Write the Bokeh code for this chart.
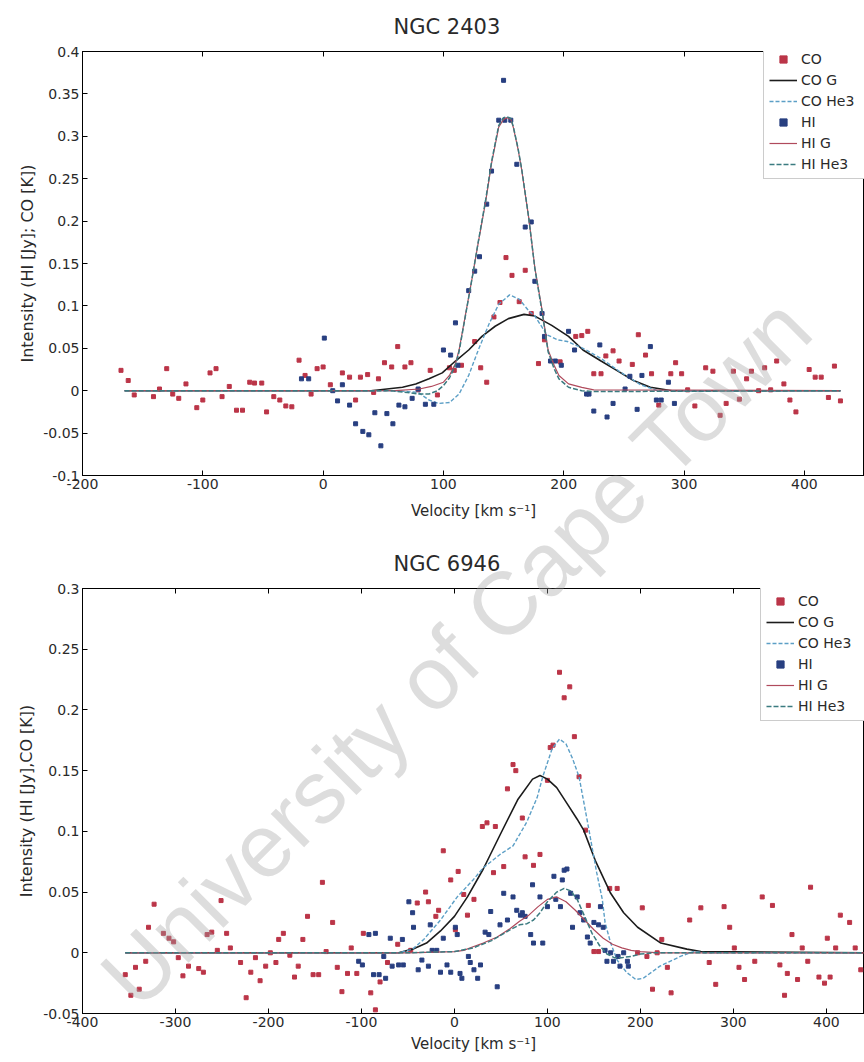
from bokeh.plotting import figure
from bokeh.models import (Range1d, LinearAxis, FixedTicker, CustomJSTickFormatter,
                          Legend, LegendItem, Label)
from bokeh.layouts import column
from bokeh.embed import file_html
from bokeh.resources import INLINE

# ---------------- NGC 2403 ----------------
n2403_co_v = [-168, -162, -157, -141, -136, -130, -125, -120, -114, -105, -100, -94, -89, -84, -78,
              -72, -67, -61, -57, -51, -47, -41, -36, -31, -26, -20, -15, -10, -5, 0, 6, 16, 22, 27,
              31, 37, 42, 46, 51, 57, 62, 68, 73, 79, 89, 95, 105, 109, 115, 126, 131, 136, 142, 147,
              152, 157, 163, 168, 173, 179, 184, 197, 210, 215, 220, 225, 231, 235, 241, 246, 257,
              262, 268, 273, 279, 289, 293, 298, 303, 309, 318, 324, 330, 335, 341, 346, 352, 356,
              362, 367, 372, 377, 383, 388, 393, 404, 409, 414, 420, 425, 430]
n2403_co_i = [0.024, 0.012, -0.005, -0.007, 0.002, 0.026, -0.004, -0.009, 0.008, -0.020, -0.011,
              0.021, 0.026, -0.007, 0.005, -0.023, -0.023, 0.010, 0.009, 0.009, -0.025, -0.007,
              -0.011, -0.018, -0.019, 0.036, 0.018, -0.004, 0.026, 0.028, 0.007, 0.021, 0.016,
              -0.011, 0.016, 0.019, -0.002, 0.014, 0.033, 0.028, 0.052, 0.028, 0.033, 0.001, 0.024,
              -0.005, 0.027, 0.024, 0.030, 0.058, 0.027, 0.010, 0.087, 0.104, 0.157, 0.136, 0.105,
              0.142, 0.091, 0.032, 0.060, 0.034, 0.064, 0.065, 0.070, 0.020, 0.020, 0.041, 0.047,
              0.035, 0.031, 0.066, 0.042, 0.020, -0.017, 0.020, 0.033, 0.020, 0.001, -0.018, 0.027,
              0.023, -0.029, -0.015, 0.023, -0.010, 0.014, 0.023, 0.000, 0.027, 0.001, 0.035, 0.008,
              -0.011, -0.025, 0.025, 0.016, 0.016, -0.008, 0.029, -0.012]
n2403_hi_v = [-18, -12, 1, 8, 12, 16, 22, 27, 33, 38, 43, 48, 53, 58, 63, 68, 74, 79, 85, 92, 100,
              106, 110, 112, 121, 126, 130, 136, 140, 146, 150, 151, 156, 161, 168, 173, 176, 182,
              184, 189, 193, 198, 204, 209, 219, 221, 225, 230, 236, 241, 251, 255, 261, 265, 272,
              277, 281, 287, 292]
n2403_hi_i = [0.014, 0.014, 0.062, 0.000, -0.012, 0.007, -0.017, -0.039, -0.048, -0.052, -0.026,
              -0.065, -0.027, -0.039, -0.017, -0.019, -0.009, 0.002, -0.016, -0.016, 0.048, 0.042,
              0.080, 0.030, 0.118, 0.141, 0.158, 0.220, 0.259, 0.319, 0.366, 0.319, 0.319, 0.267,
              0.193, 0.199, 0.129, 0.091, 0.064, 0.035, 0.035, 0.030, 0.070, 0.048, -0.004, -0.004,
              -0.024, 0.054, -0.031, -0.015, 0.002, 0.017, -0.022, 0.018, 0.052, -0.011, -0.011,
              0.010, -0.015]
n2403_cog_v = [-165, 40, 66, 77, 88, 99, 110, 121, 132, 143, 154, 167, 176, 190, 204, 216, 231, 244,
               258, 272, 290, 430]
n2403_cog_i = [0, 0, 0.004, 0.008, 0.014, 0.021, 0.035, 0.048, 0.064, 0.076, 0.085, 0.090, 0.088,
               0.077, 0.064, 0.048, 0.035, 0.024, 0.012, 0.004, 0, 0]
n2403_cohe3_v = [-165, 60, 79, 88, 96, 105, 113, 121, 129, 138, 146, 155, 163, 171, 176, 186, 195,
                 203, 216, 231, 247, 264, 278, 430]
n2403_cohe3_i = [0, 0, -0.002, -0.011, -0.015, -0.014, -0.004, 0.018, 0.048, 0.079, 0.102, 0.113,
                 0.108, 0.094, 0.088, 0.066, 0.060, 0.058, 0.050, 0.038, 0.022, 0.007, 0, 0]
n2403_hig_v = [-165, 60, 80, 90, 100, 105, 110, 113, 118, 124, 129, 135, 140, 146, 150, 153, 156,
               158, 162, 165, 171, 176, 182, 187, 192, 196, 204, 215, 225, 430]
n2403_hig_i = [0, 0, 0.002, 0.005, 0.010, 0.018, 0.032, 0.048, 0.087, 0.134, 0.175, 0.222, 0.268,
               0.311, 0.320, 0.322, 0.320, 0.311, 0.285, 0.261, 0.203, 0.145, 0.095, 0.048, 0.030,
               0.018, 0.008, 0.004, 0.001, 0]
n2403_hihe3_v = [-165, 55, 70, 80, 88, 95, 100, 105, 110, 113, 118, 124, 129, 135, 140, 146, 150,
                 153, 156, 158, 162, 165, 171, 176, 182, 187, 192, 196, 204, 215, 225, 430]
n2403_hihe3_i = [0, 0, -0.002, -0.004, -0.004, 0.000, 0.006, 0.015, 0.030, 0.046, 0.086, 0.134,
                 0.176, 0.224, 0.270, 0.313, 0.322, 0.323, 0.321, 0.312, 0.286, 0.262, 0.203, 0.144,
                 0.093, 0.046, 0.026, 0.014, 0.004, 0.000, -0.001, 0]

# ---------------- NGC 6946 ----------------
n6946_co_v = [-354, -348, -343, -339, -332, -329, -323, -313, -307, -302, -297, -292, -286, -275,
              -270, -266, -261, -255, -251, -245, -241, -230, -224, -219, -214, -209, -203, -198,
              -192, -189, -184, -177, -172, -168, -163, -158, -152, -146, -142, -138, -131, -126,
              -121, -115, -111, -105, -98, -90, -85, -80, -72, -61, -47, -40, -31, -28, -20, -17,
              -12, -4, 1, 4, 10, 14, 21, 30, 35, 42, 44, 53, 57, 63, 66, 73, 76, 85, 92, 100, 103,
              106, 113, 118, 124, 129, 134, 141, 144, 150, 155, 167, 175, 197, 202, 207, 213, 218,
              223, 229, 233, 253, 265, 274, 281, 290, 296, 301, 306, 312, 323, 331, 342, 350, 355,
              358, 363, 369, 374, 380, 383, 392, 398, 401, 404, 410, 415, 425, 431, 437]
n6946_co_i = [-0.018, -0.035, -0.012, -0.030, -0.007, 0.021, 0.040, 0.016, 0.012, 0.009, -0.004,
              -0.019, -0.011, -0.013, -0.016, 0.015, 0.017, 0.002, 0.043, 0.016, 0.004, -0.008,
              -0.037, -0.016, -0.004, -0.023, -0.011, 0.000, -0.008, 0.011, 0.016, -0.002, -0.020,
              -0.011, 0.011, 0.030, -0.018, -0.018, 0.058, 0.001, 0.025, -0.012, -0.032, -0.017,
              0.004, -0.017, 0.016, -0.033, -0.047, -0.024, -0.008, 0.007, 0.002, 0.041, 0.050,
              0.042, 0.030, 0.035, 0.084, 0.060, 0.019, 0.067, 0.048, 0.031, 0.044, 0.104, 0.107,
              0.066, 0.104, 0.071, 0.135, 0.155, 0.150, 0.111, 0.079, 0.072, 0.081, 0.142, 0.169,
              0.171, 0.231, 0.210, 0.219, 0.178, 0.145, 0.101, 0.039, 0.001, 0.001, 0.053, 0.053,
              0.000, 0.037, -0.003, -0.030, 0.000, 0.011, -0.012, -0.033, 0.027, 0.037, -0.008,
              -0.026, 0.038, 0.021, 0.004, -0.012, -0.022, -0.007, 0.046, 0.039, -0.010, -0.035,
              -0.017, 0.015, -0.022, 0.004, -0.007, 0.054, -0.020, -0.025, 0.012, -0.020, 0.004,
              0.031, 0.025, 0.004, -0.014]
n6946_hi_v = [-103, -99, -92, -87, -85, -81, -76, -74, -69, -67, -60, -56, -55, -49, -45, -44, -39,
              -35, -28, -26, -24, -19, -15, -12, -8, -4, 1, 3, 6, 8, 15, 17, 21, 25, 28, 33, 37, 39,
              46, 49, 53, 57, 63, 67, 71, 73, 76, 82, 84, 85, 92, 95, 100, 107, 109, 114, 116, 118,
              121, 125, 127, 132, 135, 139, 143, 146, 150, 155, 157, 160, 162, 164, 168, 171, 176,
              178, 182, 186, 187]
n6946_hi_i = [-0.007, -0.010, 0.015, -0.018, 0.016, -0.018, -0.003, -0.021, 0.012, -0.011, -0.010,
              0.011, -0.010, 0.042, 0.033, 0.021, -0.014, -0.006, -0.011, 0.023, 0.002, 0.002,
              -0.016, 0.012, -0.010, -0.016, 0.021, 0.015, -0.017, -0.021, -0.003, -0.008, -0.014,
              -0.021, -0.010, 0.017, 0.015, 0.034, -0.028, 0.023, 0.049, 0.027, 0.046, 0.035, 0.031,
              0.033, 0.030, 0.015, 0.056, 0.008, 0.046, 0.008, 0.038, 0.063, 0.044, 0.038, 0.060,
              0.068, 0.069, 0.049, 0.021, 0.046, 0.033, 0.027, 0.013, 0.008, 0.025, 0.023, 0.038,
              0.021, 0.002, -0.007, 0.000, -0.007, -0.003, -0.011, 0.000, -0.007, -0.011]
n6946_cog_v = [-354, -60, -45, -30, -15, 0, 14, 31, 49, 68, 84, 92, 100, 110, 121, 132, 139, 152,
               168, 182, 197, 222, 250, 265, 440]
n6946_cog_i = [0, 0, 0.003, 0.008, 0.018, 0.030, 0.046, 0.069, 0.097, 0.126, 0.143, 0.146, 0.143,
               0.136, 0.123, 0.110, 0.101, 0.075, 0.049, 0.033, 0.021, 0.008, 0.003, 0.001, 0]
n6946_cohe3_v = [-354, -60, -45, -33, -15, 3, 20, 31, 49, 63, 78, 89, 95, 105, 113, 120, 127, 134,
                 144, 148, 153, 159, 162, 168, 175, 185, 195, 203, 212, 221, 243, 257, 270, 440]
n6946_cohe3_i = [0, 0, 0.003, 0.011, 0.027, 0.046, 0.060, 0.070, 0.081, 0.088, 0.108, 0.128, 0.145,
                 0.168, 0.176, 0.172, 0.160, 0.145, 0.104, 0.087, 0.066, 0.044, 0.025, 0.008,
                 -0.006, -0.016, -0.022, -0.021, -0.016, -0.011, -0.003, 0.001, 0, 0]
n6946_hig_v = [-354, -50, 0, 10, 20, 31, 46, 60, 70, 80, 90, 100, 110, 120, 130, 140, 150, 160, 170,
               180, 190, 200, 220, 440]
n6946_hig_i = [0, 0, 0.001, 0.002, 0.005, 0.008, 0.013, 0.020, 0.026, 0.031, 0.038, 0.044, 0.046,
               0.042, 0.035, 0.027, 0.019, 0.012, 0.007, 0.004, 0.002, 0.001, 0, 0]
n6946_hihe3_v = [-354, -50, 0, 20, 40, 60, 70, 78, 85, 92, 100, 110, 118, 125, 132, 140, 148, 156,
                 164, 172, 180, 190, 200, 215, 440]
n6946_hihe3_i = [0, 0, 0.001, 0.004, 0.010, 0.019, 0.023, 0.024, 0.027, 0.033, 0.042, 0.050, 0.053,
                 0.051, 0.044, 0.030, 0.016, 0.006, -0.001, -0.004, -0.004, -0.003, -0.001, 0, 0]

# ticks and labels
ticks_x_2403 = [-200, -100, 0, 100, 200, 300, 400]
ticks_y_2403 = [-0.1, -0.05, 0, 0.05, 0.1, 0.15, 0.2, 0.25, 0.3, 0.35, 0.4]
ticks_x_6946 = [-400, -300, -200, -100, 0, 100, 200, 300, 400]
ticks_y_6946 = [-0.05, 0, 0.05, 0.1, 0.15, 0.2, 0.25, 0.3]
legend_labels = ["CO", "CO G", "CO He3", "HI", "HI G", "HI He3"]
watermark_text = "University of Cape Town"

C_CO = "#bb3548"
C_HI = "#283f80"
C_COG = "#1c1c1c"
C_COHE3 = "#5c9fc6"
C_HIG = "#b04a5c"
C_HIHE3 = "#3b7b80"
TXT = "#2a2a2a"
FONT = "DejaVu Sans"


def make_panel(title, ylabel, co_v, co_i, hi_v, hi_i, cog, cohe3, hig, hihe3,
               xr, yr, xt, yt, width, height, bl, bt, bb, title_standoff, title_offset,
               leg_xy, xlab_standoff, ylab_standoff):
    p = figure(width=width, height=height, x_range=Range1d(*xr), y_range=Range1d(*yr),
               output_backend="svg", toolbar_location=None,
               min_border_left=bl, min_border_right=0, min_border_top=bt, min_border_bottom=bb,
               background_fill_color="white", background_fill_alpha=0,
               border_fill_color="white", border_fill_alpha=0,
               outline_line_color="black", outline_line_width=1)
    p.grid.visible = False

    p.title.text = title
    p.title.align = "left"
    p.title.offset = title_offset
    p.title.text_font = FONT
    p.title.text_font_size = "21px"
    p.title.text_font_style = "normal"
    p.title.text_color = TXT
    p.title.standoff = title_standoff

    fmt = CustomJSTickFormatter(code="return tick.toString();")
    blank = CustomJSTickFormatter(code="return '';")

    for ax in p.xaxis:
        ax.ticker = FixedTicker(ticks=xt)
        ax.formatter = fmt
        ax.axis_label = "Velocity [km s\u207b\u00b9]"
        ax.axis_label_standoff = xlab_standoff
        ax.major_label_standoff = 3
    for ax in p.yaxis:
        ax.ticker = FixedTicker(ticks=yt)
        ax.formatter = fmt
        ax.axis_label = ylabel
        ax.axis_label_standoff = ylab_standoff
        ax.major_label_standoff = 3
    for ax in list(p.xaxis) + list(p.yaxis):
        ax.major_tick_in = 5
        ax.major_tick_out = 0
        ax.minor_tick_line_color = None
        ax.axis_line_color = "black"
        ax.major_tick_line_color = "black"
        ax.major_label_text_font = FONT
        ax.major_label_text_font_size = "14px"
        ax.major_label_text_color = TXT
        ax.axis_label_text_font = FONT
        ax.axis_label_text_font_style = "normal"
        ax.axis_label_text_color = TXT
    p.xaxis.axis_label_text_font_size = "15px"
    p.yaxis.axis_label_text_font_size = "16px"

    top = LinearAxis(ticker=FixedTicker(ticks=xt), formatter=blank, major_tick_in=5,
                     major_tick_out=0, minor_tick_line_color=None, major_label_standoff=0,
                     axis_line_color="black", major_label_text_font_size="14px")
    p.add_layout(top, "above")

    r_co = p.scatter(co_v, co_i, marker="square", size=4, fill_color=C_CO, line_color=C_CO)
    r_cog = p.line(cog[0], cog[1], line_color=C_COG, line_width=1.6)
    r_cohe3 = p.line(cohe3[0], cohe3[1], line_color=C_COHE3, line_width=1.4, line_dash="4 2")
    r_hi = p.scatter(hi_v, hi_i, marker="square", size=4, fill_color=C_HI, line_color=C_HI)
    r_hig = p.line(hig[0], hig[1], line_color=C_HIG, line_width=1.2)
    r_hihe3 = p.line(hihe3[0], hihe3[1], line_color=C_HIHE3, line_width=1.5, line_dash="5 2")

    rends = [r_co, r_cog, r_cohe3, r_hi, r_hig, r_hihe3]
    items = [LegendItem(label=lab, renderers=[r]) for lab, r in zip(legend_labels, rends)]
    leg = Legend(items=items, location=leg_xy, label_text_font=FONT,
                 label_text_font_size="14px", label_text_color=TXT,
                 glyph_width=28, glyph_height=18, label_height=18, label_width=66,
                 spacing=3, padding=5, label_standoff=4, margin=0,
                 border_line_color="#9a9a9a", border_line_width=1,
                 background_fill_color="white", background_fill_alpha=1.0)
    p.add_layout(leg)
    return p


p1 = make_panel("NGC 2403", "Intensity (HI [Jy]; CO [K])",
                n2403_co_v, n2403_co_i, n2403_hi_v, n2403_hi_i,
                (n2403_cog_v, n2403_cog_i), (n2403_cohe3_v, n2403_cohe3_i),
                (n2403_hig_v, n2403_hig_i), (n2403_hihe3_v, n2403_hihe3_i),
                (-200, 450), (-0.1, 0.4), ticks_x_2403, ticks_y_2403,
                864, 535, 79, 43, 60, 25, 311, (681, 296), 10, 3)
p2 = make_panel("NGC 6946", "Intensity (HI [Jy],CO [K])",
                n6946_co_v, n6946_co_i, n6946_hi_v, n6946_hi_i,
                (n6946_cog_v, n6946_cog_i), (n6946_cohe3_v, n6946_cohe3_i),
                (n6946_hig_v, n6946_hig_i), (n6946_hihe3_v, n6946_hihe3_i),
                (-400, 441), (-0.05, 0.3), ticks_x_6946, ticks_y_6946,
                864, 527, 82, 53, 49, 25, 311, (678, 292), 5, 4)

# Transparent page-sized layer laid over both panels, holding the diagonal watermark
# as one unbroken text (page pixel coordinates, y measured upwards from the bottom).
wm_fig = figure(width=864, height=1062, x_range=Range1d(0, 864), y_range=Range1d(0, 1062),
                output_backend="svg", toolbar_location=None,
                x_axis_location=None, y_axis_location=None, min_border=0,
                outline_line_color=None, background_fill_alpha=0, border_fill_alpha=0)
wm_fig.grid.visible = False
wm = Label(x=38, y=72, text=watermark_text, angle=0.785,
           text_font="Liberation Sans", text_font_size="89px", text_color="#a0a0a0",
           text_alpha=0.36, text_align="left", text_baseline="alphabetic")
wm_fig.add_layout(wm)
wm_fig.margin = (-1062, 0, 0, 0)

layout = column(p1, p2, wm_fig, spacing=0)
open("out.html", "w").write(file_html(layout, INLINE))
